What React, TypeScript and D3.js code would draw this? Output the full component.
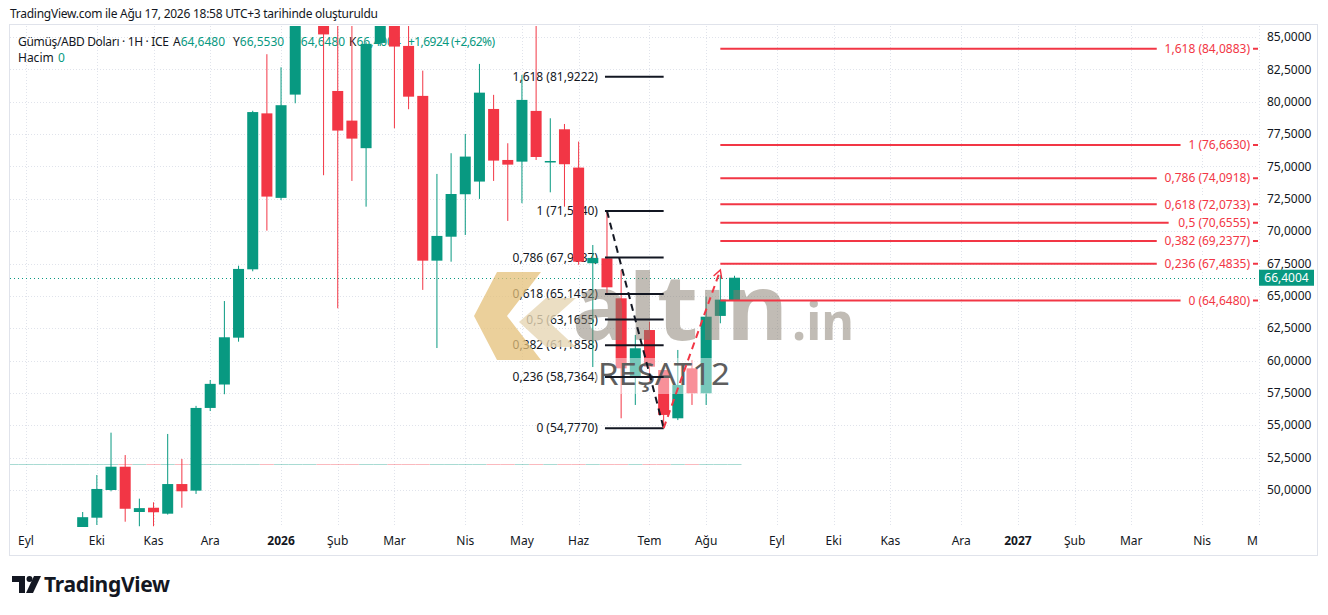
import React from 'react'
import * as d3 from 'd3'

const WIDTH = 1328
const HEIGHT = 615
const FONT = '"Noto Sans", "DejaVu Sans", sans-serif'
const GREEN = '#089981'
const RED = '#f23645'
const TEXT = '#131722'
const GRID = '#e0e3eb'

// haftalık mumlar (1H), ilk mum 25 Ağu 2025
const firstWeek = new Date(2025, 7, 25)
const opens = [
	38.5, 40.7, 41.6, 42.7, 43.2, 46.4, 47.86, 50.0, 51.8, 48.3, 48.63, 48.17, 50.46, 49.95, 56.34, 58.15, 61.77, 67.05,
	79.1, 72.57, 80.55, 90.0, 101.5, 80.83, 78.54, 76.41, 84.54, 89.5, 84.31, 80.45, 67.72, 69.57, 72.85, 73.83, 79.44,
	75.5, 75.37, 79.29, 75.35, 77.87, 74.91, 67.52, 67.9, 64.81, 58.76, 62.36, 59.27, 55.54, 59.4, 57.47, 63.45, 64.648
]
const highs = [
	41.0, 41.9, 42.9, 44.0, 46.8, 48.3, 51.16, 54.43, 52.7, 49.33, 49.05, 54.33, 52.4, 56.5, 58.5, 64.6, 67.33, 79.3,
	83.67, 82.66, 92.0, 104.0, 121.0, 92.0, 87.5, 84.6, 93.0, 96.0, 87.0, 82.4, 74.42, 76.02, 77.51, 82.92, 80.53,
	76.79, 82.07, 88.0, 78.72, 78.28, 76.92, 68.93, 71.554, 67.0, 61.98, 63.0, 59.6, 60.82, 60.05, 64.94, 66.6, 66.553
]
const lows = [
	38.3, 40.1, 41.2, 42.3, 43.0, 45.9, 47.3, 49.9, 47.55, 47.2, 47.2, 48.1, 48.63, 49.7, 56.1, 57.4, 61.46, 66.9,
	70.04, 72.4, 79.88, 88.5, 74.32, 64.04, 73.88, 71.89, 84.3, 77.95, 79.42, 65.46, 60.97, 67.64, 69.7, 72.49, 73.88,
	70.79, 72.16, 75.5, 73.0, 71.89, 67.4, 59.5, 65.07, 55.54, 56.57, 58.37, 54.777, 55.4, 56.57, 56.57, 62.88, 64.648
]
const closes = [
	40.7, 41.6, 42.7, 43.2, 46.4, 47.9, 50.08, 51.8, 48.55, 48.6, 48.28, 50.46, 49.9, 56.34, 58.2, 61.8, 67.08, 79.2,
	72.67, 79.73, 90.0, 101.5, 85.2, 77.77, 77.15, 84.47, 89.5, 84.26, 80.39, 67.72, 69.63, 72.87, 75.76, 80.7, 75.45,
	75.14, 80.14, 75.73, 75.42, 75.17, 67.64, 67.93, 65.66, 59.4, 60.95, 59.53, 55.8, 58.11, 57.47, 63.39, 64.708, 66.4004
]

const priceTicks = [50, 52.5, 55, 57.5, 60, 62.5, 65, 67.5, 70, 72.5, 75, 77.5, 80, 82.5, 85]
const monthNames = ['Oca', 'Şub', 'Mar', 'Nis', 'May', 'Haz', 'Tem', 'Ağu', 'Eyl', 'Eki', 'Kas', 'Ara']
const fibLevels = [0, 0.236, 0.382, 0.5, 0.618, 0.786, 1, 1.618]
// mum sırası (dizideki index)
const fibDown = { one: 71.554, zero: 54.777, from: 42, to: 46 }
const fibExt = { one: 76.663, zero: 64.648, from: 50 }
const trendUp = { from: 46, to: 50, end: 67.0 }
const lastPrice = 66.4004
const change = '+1,6924 (+2,62%)'

const pane = { left: 10, right: 1258, top: 26, bottom: 527 }

const fmt = (v: number) => d3.format('.4f')(v).replace('.', ',')
const lvl = (l: number) => String(l).replace('.', ',')

const candles = opens.map((o, i) => ({
	date: d3.timeWeek.offset(firstWeek, i),
	open: o,
	high: highs[i],
	low: lows[i],
	close: closes[i]
}))

const x = d3
	.scaleTime()
	.domain([new Date(2025, 8, 1), new Date(2026, 7, 17)])
	.range([26, 734.5])
const y = d3.scaleLinear().domain([50, 85]).range([490, 37])

const monthTicks = d3.timeMonth.range(new Date(2025, 8, 1), new Date(2027, 5, 1)).map((m) => ({
	date: d3.timeMonday.ceil(m),
	label: m.getMonth() === 0 ? String(m.getFullYear()) : monthNames[m.getMonth()],
	year: m.getMonth() === 0
}))

const cx = (i: number) => x(candles[i].date)

const App = () => {
	const upStart = { x: cx(trendUp.from), y: y(fibDown.zero) }
	const upEnd = { x: cx(trendUp.to), y: y(trendUp.end) }
	const ang = Math.atan2(upEnd.y - upStart.y, upEnd.x - upStart.x)
	const head = (d: number) => ({
		x: upEnd.x - 9 * Math.cos(ang + d),
		y: upEnd.y - 9 * Math.sin(ang + d)
	})
	const h1 = head(0.5)
	const h2 = head(-0.5)
	const fibX1 = cx(fibDown.from) - 2
	const fibX2 = cx(fibDown.to)
	const extX1 = cx(fibExt.from)

	const ohlc = [
		['A', opens[opens.length - 1], 173],
		['Y', highs[highs.length - 1], 233],
		['D', lows[lows.length - 1], 292],
		['K', lastPrice, 349]
	] as const

	return (
		<svg
			width={WIDTH}
			height={HEIGHT}
			style={{ position: 'absolute', left: 0, top: 0, background: '#fff', fontFamily: FONT }}
		>
			<defs>
				<clipPath id="pane">
					<rect x={pane.left} y={pane.top} width={pane.right - pane.left} height={pane.bottom - pane.top} />
				</clipPath>
				<clipPath id="xaxis">
					<rect x={pane.left} y={pane.bottom} width={pane.right - pane.left} height={30} />
				</clipPath>
			</defs>

			<text x={10} y={18} fontSize={12} fill={TEXT} textLength={368}>
				TradingView.com ile Ağu 17, 2026 18:58 UTC+3 tarihinde oluşturuldu
			</text>

			<rect x={9.5} y={24.5} width={1308} height={531} fill="none" stroke={GRID} />

			{/* ızgara */}
			<g stroke={GRID} strokeDasharray="1,2">
				{priceTicks.map((t) => (
					<line key={t} x1={pane.left} x2={pane.right} y1={Math.round(y(t)) + 0.5} y2={Math.round(y(t)) + 0.5} />
				))}
				{monthTicks.map((m, i) => (
					<line key={i} x1={Math.round(x(m.date)) + 0.5} x2={Math.round(x(m.date)) + 0.5} y1={pane.top} y2={pane.bottom} />
				))}
			</g>

			{/* başlık */}
			<text x={18} y={46} fontSize={12} fill={TEXT} textLength={151}>
				Gümüş/ABD Doları · 1H · ICE
			</text>
			{ohlc.map(([k, v, px]) => (
				<text key={k} x={px} y={46} fontSize={12} fill={TEXT}>
					{k}
					<tspan fill={GREEN}>{fmt(v)}</tspan>
				</text>
			))}
			<text x={408} y={46} fontSize={12} fill={GREEN} textLength={87}>
				{change}
			</text>
			<text y={62} fontSize={12} fill={TEXT}>
				<tspan x={18}>Hacim</tspan>
				<tspan x={58} fill={GREEN}>
					0
				</tspan>
			</text>

			<g clipPath="url(#pane)">
				{/* hacim */}
				{candles.map((c, i) => (
					<line
						key={i}
						x1={x(c.date) - 7}
						x2={x(c.date) + 7}
						y1={464.5}
						y2={464.5}
						stroke={c.close >= c.open ? GREEN : RED}
						strokeOpacity={0.35}
					/>
				))}

				{/* son fiyat çizgisi */}
				<line
					x1={pane.left}
					x2={pane.right}
					y1={Math.round(y(lastPrice)) + 0.5}
					y2={Math.round(y(lastPrice)) + 0.5}
					stroke={GREEN}
					strokeDasharray="1,3"
				/>

				{/* fib etiketleri (siyah) */}
				{fibLevels.map((l) => {
					const v = fibDown.zero + l * (fibDown.one - fibDown.zero)
					return (
						<text key={l} x={fibX1 - 7} y={y(v)} dy="0.35em" fontSize={12} fill={TEXT} textAnchor="end">
							{`${lvl(l)} (${fmt(v)})`}
						</text>
					)
				})}

				{/* mumlar */}
				{candles.map((c, i) => {
					const cxp = x(c.date)
					const col = c.close >= c.open ? GREEN : RED
					const top = y(Math.max(c.open, c.close))
					const bot = y(Math.min(c.open, c.close))
					return (
						<g key={i}>
							<line x1={cxp} x2={cxp} y1={y(c.high)} y2={y(c.low)} stroke={col} strokeWidth={1} />
							<rect x={cxp - 5.5} y={top} width={11} height={Math.max(1.5, bot - top)} fill={col} />
						</g>
					)
				})}

				{/* filigran */}
				<g>
					<polygon points="497,272 541,272 507,316 541,360 497,360 474,316" fill="#e4c07a" opacity={0.75} />
					<polygon points="546,298 576,298 549,322 576,347 546,347 519,322" fill="#e6d6b4" opacity={0.8} />
					<text x={572} y={340} fontSize={92} fontWeight={700} fill="#857c6d" opacity={0.5} textLength={216} lengthAdjust="spacingAndGlyphs">
						altın
					</text>
					<text x={792} y={340} fontSize={52} fontWeight={700} fill="#857c6d" opacity={0.5} textLength={62} lengthAdjust="spacingAndGlyphs">
						.in
					</text>
				</g>
				<rect x={596} y={358} width={137} height={36} fill="#fff" opacity={0.45} />
				<text x={598} y={385} fontSize={30} fill="#5e5e5e" textLength={132} lengthAdjust="spacingAndGlyphs">
					REŞAT12
				</text>

				{/* fib çizgileri (siyah) */}
				{fibLevels.map((l) => {
					const v = fibDown.zero + l * (fibDown.one - fibDown.zero)
					return <line key={l} x1={fibX1} x2={fibX2} y1={y(v)} y2={y(v)} stroke={TEXT} strokeWidth={2} />
				})}
				<line
					x1={cx(fibDown.from)}
					y1={y(fibDown.one)}
					x2={fibX2}
					y2={y(fibDown.zero)}
					stroke={TEXT}
					strokeWidth={2}
					strokeDasharray="7,5"
				/>

				{/* fib uzatma (kırmızı) */}
				{fibLevels.map((l) => {
					const v = fibExt.zero + l * (fibExt.one - fibExt.zero)
					const label = `${lvl(l)} (${fmt(v)})`
					const w = label.length * 5.95
					return (
						<g key={l}>
							<line x1={extX1} x2={pane.right} y1={y(v)} y2={y(v)} stroke={RED} strokeWidth={2} />
							<rect x={1250 - w - 4} y={y(v) - 8} width={w + 7} height={16} fill="#fff" />
							<text x={1250} y={y(v)} dy="0.35em" fontSize={12} fill={RED} textAnchor="end">
								{label}
							</text>
						</g>
					)
				})}
				<line x1={upStart.x} y1={upStart.y} x2={upEnd.x} y2={upEnd.y} stroke={RED} strokeWidth={2} strokeDasharray="7,5" />
				<polyline points={`${h1.x},${h1.y} ${upEnd.x},${upEnd.y} ${h2.x},${h2.y}`} fill="none" stroke={RED} strokeWidth={1.5} />
			</g>

			{/* fiyat ekseni */}
			{priceTicks.map((t) => (
				<text key={t} x={1267} y={y(t)} dy="0.35em" fontSize={12} fill={TEXT}>
					{fmt(t)}
				</text>
			))}
			<rect x={1259} y={y(lastPrice) - 8} width={55} height={16} fill={GREEN} />
			<text x={1286.5} y={y(lastPrice)} dy="0.35em" fontSize={12} fill="#fff" textAnchor="middle">
				{fmt(lastPrice)}
			</text>

			{/* zaman ekseni */}
			<g clipPath="url(#xaxis)">
				{monthTicks.map((m, i) => (
					<text
						key={i}
						x={x(m.date)}
						y={545}
						fontSize={12}
						fill={TEXT}
						textAnchor="middle"
						fontWeight={m.year ? 700 : 400}
					>
						{m.label}
					</text>
				))}
			</g>

			{/* TradingView logosu */}
			<g fill="#131722">
				<path d="M12 576 h13 v17 h-6 v-11 h-7 z" />
				<circle cx={29.5} cy={579} r={3} />
				<path d="M34 576 h7 l-8 17 h-7 z" />
				<text x={44} y={592} fontSize={21} fontWeight={700} textLength={126}>
					TradingView
				</text>
			</g>
		</svg>
	)
}

export default App
